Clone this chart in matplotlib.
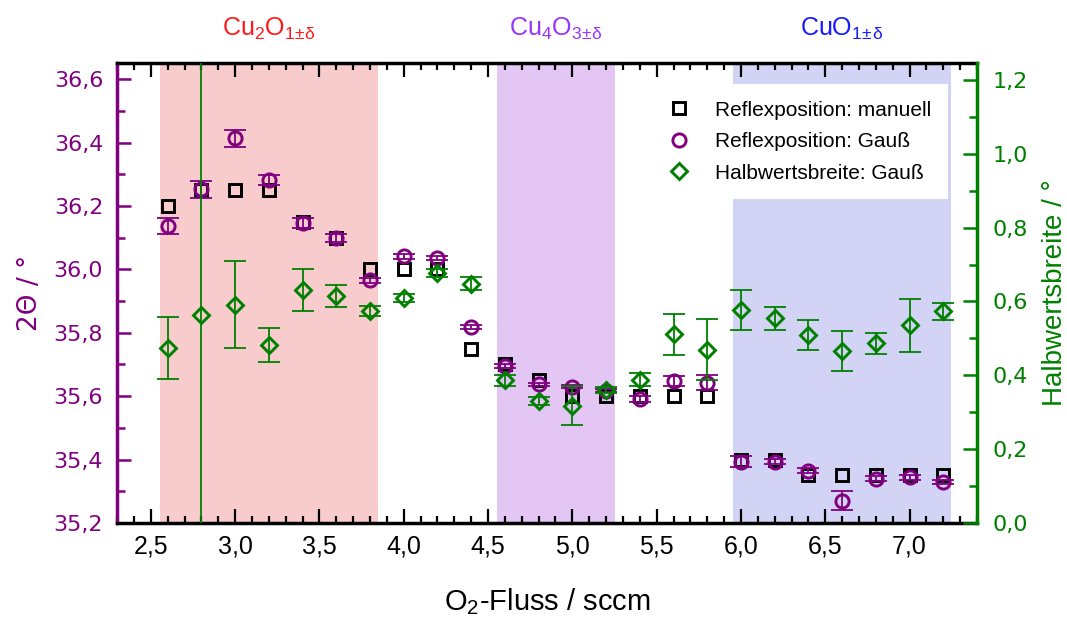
import numpy as np
import matplotlib
matplotlib.use("Agg")
import matplotlib.pyplot as plt
from matplotlib.ticker import MultipleLocator, FuncFormatter
from matplotlib.lines import Line2D
from matplotlib.transforms import blended_transform_factory

# O2 flow (sccm)
o2_flow = [2.6, 2.8, 3.0, 3.2, 3.4, 3.6, 3.8, 4.0, 4.2, 4.4, 4.6, 4.8,
           5.0, 5.2, 5.4, 5.6, 5.8, 6.0, 6.2, 6.4, 6.6, 6.8, 7.0, 7.2]

# reflex position, read manually (2Theta, deg)
pos_manual = [36.20, 36.25, 36.25, 36.25, 36.15, 36.10, 36.00, 36.00, 36.00, 35.75, 35.70, 35.65,
              35.60, 35.60, 35.60, 35.60, 35.60, 35.40, 35.40, 35.35, 35.35, 35.35, 35.35, 35.35]

# reflex position from gauss fit
pos_gauss = [36.137, 36.252, 36.413, 36.282, 36.145, 36.098, 35.966, 36.042, 36.035, 35.819, 35.696, 35.637,
             35.630, 35.617, 35.591, 35.648, 35.642, 35.393, 35.393, 35.365, 35.270, 35.339, 35.344, 35.330]
pos_gauss_err = [0.025, 0.026, 0.026, 0.015, 0.016, 0.013, 0.008, 0.008, 0.006, 0.006, 0.006, 0.004,
                 0.005, 0.005, 0.010, 0.017, 0.024, 0.018, 0.008, 0.008, 0.030, 0.008, 0.008, 0.007]

# FWHM from gauss fit (deg)
fwhm = [0.474, 0.564, 0.591, 0.482, 0.631, 0.615, 0.575, 0.610, 0.677, 0.648, 0.386, 0.331,
        0.318, 0.359, 0.388, 0.511, 0.469, 0.577, 0.555, 0.509, 0.466, 0.487, 0.535, 0.573]
fwhm_err = [0.084, 0.9, 0.118, 0.047, 0.058, 0.030, 0.013, 0.011, 0.010, 0.018, 0.014, 0.011,
            0.052, 0.008, 0.018, 0.055, 0.083, 0.053, 0.031, 0.041, 0.055, 0.028, 0.073, 0.022]

# phase regions
phase_names = [r'Cu$_2$O$_{1\!\pm\!\delta}$', r'Cu$_4$O$_{3\!\pm\!\delta}$', r'CuO$_{1\!\pm\!\delta}$']
phase_lo = [2.555, 4.555, 5.95]
phase_hi = [3.85, 5.25, 7.245]
phase_fill = ['#f8cccc', '#e3c6f4', '#d3d3f5']
phase_text = ['#ff1a1a', '#9933ff', '#1a1aff']

PURPLE = '#800080'
GREEN = '#008000'
SANS = ['Liberation Sans', 'DejaVu Sans']

plt.rcParams['mathtext.default'] = 'regular'
plt.rcParams['font.family'] = SANS


def comma(v, pos):
    return f'{v:.1f}'.replace('.', ',')


fig = plt.figure(figsize=(10.67, 6.17), dpi=100)
ax = fig.add_axes([0.1097, 0.1524, 0.806, 0.7455])
ax2 = ax.twinx()

for lo, hi, fc in zip(phase_lo, phase_hi, phase_fill):
    ax.axvspan(lo, hi, color=fc, lw=0, zorder=0)

tr = blended_transform_factory(ax.transData, fig.transFigure)
for name, lo, hi, c in zip(phase_names, phase_lo, phase_hi, phase_text):
    ax.text((lo + hi) / 2, 0.942, name, color=c, fontsize=18, ha='center',
            va='baseline', transform=tr)

# left axis: position
ax.plot(o2_flow, pos_manual, ls='none', marker='s', ms=9, mew=2.1,
        mec='black', mfc='none', zorder=3)
ax.errorbar(o2_flow, pos_gauss, yerr=pos_gauss_err, fmt='none', ecolor=PURPLE,
            elinewidth=1.3, capsize=8, capthick=1.3, zorder=4)
ax.plot(o2_flow, pos_gauss, ls='none', marker='o', ms=9.5, mew=2.1,
        mec=PURPLE, mfc='none', zorder=4)

# right axis: FWHM
ax2.errorbar(o2_flow, fwhm, yerr=fwhm_err, fmt='none', ecolor=GREEN,
             elinewidth=1.3, capsize=8, capthick=1.3, zorder=3)
ax2.plot(o2_flow, fwhm, ls='none', marker='D', ms=8.5, mew=2.1,
         mec=GREEN, mfc='none', zorder=3)

ax.set_xlim(2.3, 7.4)
ax.set_ylim(35.2, 36.651)
ax2.set_ylim(0, 1.246)

ax.xaxis.set_major_locator(MultipleLocator(0.5))
ax.xaxis.set_minor_locator(MultipleLocator(0.1))
ax.yaxis.set_major_locator(MultipleLocator(0.2))
ax.yaxis.set_minor_locator(MultipleLocator(0.1))
ax2.yaxis.set_major_locator(MultipleLocator(0.2))
ax2.yaxis.set_minor_locator(MultipleLocator(0.1))
for a in (ax.xaxis, ax.yaxis, ax2.yaxis):
    a.set_major_formatter(FuncFormatter(comma))

ax.tick_params(axis='x', which='both', direction='in', top=True, bottom=True,
               width=1.6, colors='black', labelsize=18, pad=8)
ax.tick_params(axis='x', which='major', length=10)
ax.tick_params(axis='x', which='minor', length=5)
ax.tick_params(axis='y', which='both', direction='in', right=False, width=1.8,
               colors=PURPLE, labelsize=16, pad=10)
ax.tick_params(axis='y', which='major', length=10)
ax.tick_params(axis='y', which='minor', length=6)
ax2.tick_params(axis='y', which='both', direction='in', width=1.8,
                colors=GREEN, labelsize=16, pad=11)
ax2.tick_params(axis='y', which='major', length=10)
ax2.tick_params(axis='y', which='minor', length=6)
for lab in ax.get_yticklabels() + ax2.get_yticklabels():
    lab.set_family('DejaVu Sans')

for s in ('top', 'bottom'):
    ax.spines[s].set_linewidth(2.5)
ax.spines['left'].set_color(PURPLE)
ax.spines['left'].set_linewidth(2.5)
ax.spines['right'].set_visible(False)
for s in ('left', 'top', 'bottom'):
    ax2.spines[s].set_visible(False)
ax2.spines['right'].set_color(GREEN)
ax2.spines['right'].set_linewidth(2.5)

ax.set_xlabel(r'O$_2$-Fluss / sccm', fontsize=21, labelpad=20)
ax.set_ylabel('2Θ / °', fontsize=19, color=PURPLE, labelpad=8, family='DejaVu Sans')
ax2.set_ylabel('Halbwertsbreite / °', fontsize=20, color=GREEN, labelpad=10)

handles = [
    Line2D([], [], ls='none', marker='s', ms=9, mew=2.1, mec='black', mfc='none'),
    Line2D([], [], ls='none', marker='o', ms=9.5, mew=2.1, mec=PURPLE, mfc='none'),
    Line2D([], [], ls='none', marker='D', ms=8.5, mew=2.1, mec=GREEN, mfc='none'),
]
labels = ['Reflexposition: manuell', 'Reflexposition: Gauß', 'Halbwertsbreite: Gauß']
leg = ax2.legend(handles, labels, loc='upper left', bbox_to_anchor=(652 / 1067, 1 - 84 / 617),
                 bbox_transform=fig.transFigure, borderaxespad=0, fontsize=15,
                 handlelength=1.0, handletextpad=1.23, borderpad=0.8, labelspacing=0.6,
                 frameon=True, fancybox=False, framealpha=1, facecolor='white',
                 edgecolor='none')

fig.savefig('out.png', dpi=100)
